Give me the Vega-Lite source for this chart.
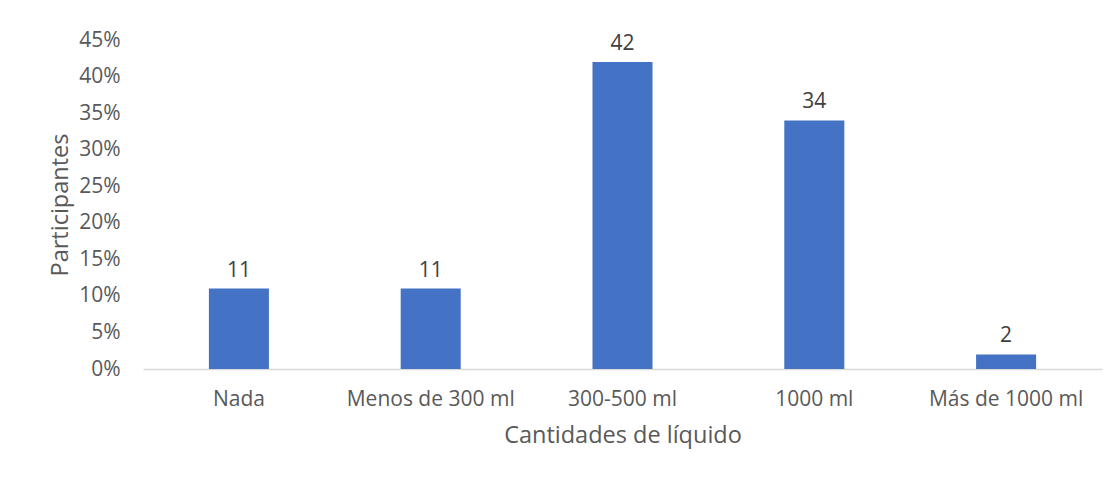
{
  "$schema": "https://vega.github.io/schema/vega-lite/v6.json",
  "autosize": {"type": "none"},
  "padding": {"left": 143, "top": 40, "right": 18, "bottom": 111},
  "width": 959,
  "height": 329,
  "background": "white",
  "config": {
    "view": {"stroke": null},
    "font": "Open Sans",
    "axis": {"labelFont": "Open Sans", "titleFont": "Open Sans", "labelColor": "#595959", "titleColor": "#595959", "titleFontWeight": "normal"}
  },
  "data": {
    "values": [
      {"cantidad": "Nada", "pct": 11},
      {"cantidad": "Menos de 300 ml", "pct": 11},
      {"cantidad": "300-500 ml", "pct": 42},
      {"cantidad": "1000 ml", "pct": 34},
      {"cantidad": "Más de 1000 ml", "pct": 2}
    ]
  },
  "encoding": {
    "x": {
      "field": "cantidad", "type": "nominal", "sort": null,
      "scale": {"paddingInner": 0.687, "paddingOuter": 0.3435},
      "axis": {"title": "Cantidades de líquido", "labelAngle": 0, "labelFontSize": 21, "titleFontSize": 23.5, "ticks": false, "domainColor": "#d9d9d9", "domainWidth": 1.5, "labelPadding": 19, "titlePadding": 14}
    },
    "y": {
      "field": "pct", "type": "quantitative",
      "scale": {"domain": [0, 45], "nice": false},
      "axis": {"title": "Participantes", "values": [0,5,10,15,20,25,30,35,40,45], "labelExpr": "datum.value + '%'", "labelFontSize": 21, "titleFontSize": 23.5, "ticks": false, "domain": false, "grid": false, "labelPadding": 23, "titlePadding": 6}
    }
  },
  "layer": [
    {"mark": {"type": "bar", "color": "#4472c4"}},
    {"mark": {"type": "text", "baseline": "bottom", "dy": -8, "fontSize": 21, "color": "#404040", "font": "Open Sans"}, "encoding": {"text": {"field": "pct", "type": "quantitative"}}}
  ]
}
